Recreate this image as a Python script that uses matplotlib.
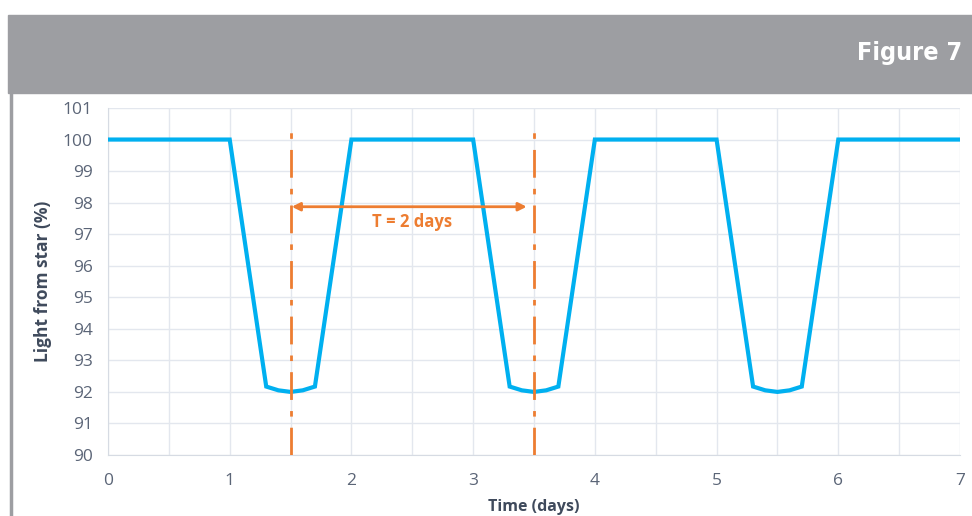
import matplotlib.pyplot as plt
from matplotlib.patches import Rectangle
from matplotlib.lines import Line2D

# light curve
time_days = [0, 1, 1.3, 1.4, 1.5, 1.6, 1.7, 2, 3, 3.3, 3.4, 3.5, 3.6, 3.7, 4,
             5, 5.3, 5.4, 5.5, 5.6, 5.7, 6, 7]
light_pct = [100, 100, 92.17, 92.05, 92.0, 92.05, 92.17, 100, 100, 92.17, 92.05,
             92.0, 92.05, 92.17, 100, 100, 92.17, 92.05, 92.0, 92.05, 92.17, 100, 100]

period_marks = [1.5, 3.5]
period_label = "T = 2 days"
y_ticks = list(range(90, 102))
x_ticks = list(range(0, 8))

BLUE = "#00b0f0"
ORANGE = "#ed7d31"
TICK = "#5b6577"
LABEL = "#3f4a5c"
GRID = "#e3e7ee"
BAND = "#9d9ea2"

plt.rcParams['font.family'] = ['Open Sans', 'DejaVu Sans']

fig = plt.figure(figsize=(9.72, 5.16), dpi=100)

# header band and left border
fig.patches.append(Rectangle((8 / 972, 1 - 93 / 516), 1, 78 / 516,
                             transform=fig.transFigure, color=BAND, zorder=0))
fig.lines.append(Line2D([11 / 972, 11 / 972], [0, 1 - 93 / 516],
                        transform=fig.transFigure, color=BAND, lw=2.5))
fig.text(962 / 972, 1 - 53 / 516, "Figure 7", color="white", fontsize=18,
         fontweight="bold", ha="right", va="center",
         family=["DejaVu Sans"], fontstretch="condensed")

ax = fig.add_axes([108 / 972, 61 / 516, 852 / 972, 347 / 516])
ax.plot(time_days, light_pct, color=BLUE, lw=3, solid_joinstyle="miter", zorder=3)

for xm in period_marks:
    ax.plot([xm, xm], [90, 100.3], color=ORANGE, lw=2,
            linestyle=(0, (10, 4, 2, 4)), zorder=4)

ax.annotate("", xy=(period_marks[0] + 0.01, 97.87), xytext=(period_marks[1] - 0.06, 97.87),
            arrowprops=dict(arrowstyle="<|-|>", color=ORANGE, lw=2,
                            mutation_scale=12, shrinkA=0, shrinkB=0), zorder=5)
ax.text(sum(period_marks) / 2, 97.4, period_label, color=ORANGE, fontsize=12,
        fontweight="bold", ha="center", va="center")

ax.set_xlim(0, 7)
ax.set_ylim(90, 101)
ax.set_xticks(x_ticks)
ax.set_xticks([x + 0.5 for x in x_ticks[:-1]], minor=True)
ax.set_yticks(y_ticks)
ax.grid(True, which="both", color=GRID, lw=1)
ax.set_axisbelow(True)
for side in ["top", "right"]:
    ax.spines[side].set_visible(False)
for side in ["left", "bottom"]:
    ax.spines[side].set_color("#d6dbe3")
ax.tick_params(which="both", length=0, colors=TICK, labelsize=12.5)
ax.tick_params(axis="x", pad=13)
ax.tick_params(axis="y", pad=11)

ax.set_ylabel("Light from star (%)", color=LABEL, fontsize=12.5, fontweight="bold",
              labelpad=8)
ax.set_xlabel("Time (days)", color=LABEL, fontsize=11.5, fontweight="bold",
              labelpad=7)

fig.savefig("out.png", dpi=100, facecolor="white")
